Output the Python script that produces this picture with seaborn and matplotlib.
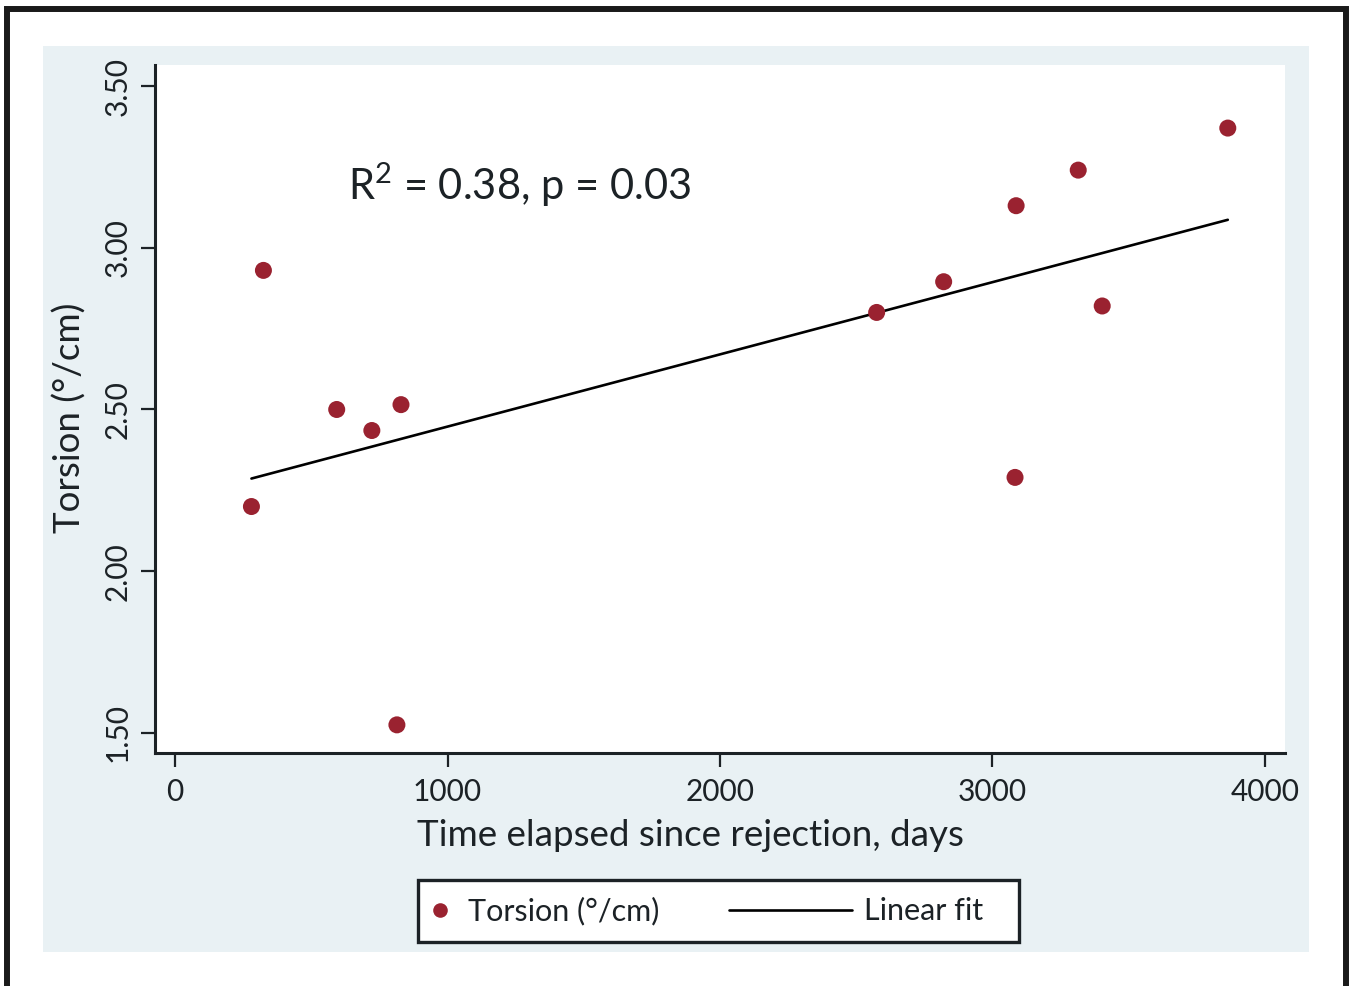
import matplotlib
matplotlib.use("Agg")
import matplotlib.pyplot as plt
import seaborn as sns
import pandas as pd
from matplotlib.patches import Rectangle
from matplotlib.lines import Line2D
from matplotlib.legend_handler import HandlerBase

days = [280, 324, 593, 722, 829, 814, 2575, 2821, 3087, 3083, 3315, 3403, 3864]
torsion = [2.20, 2.93, 2.50, 2.435, 2.515, 1.525, 2.80, 2.895, 3.13, 2.29, 3.24, 2.82, 3.37]
x_ticks = [0, 1000, 2000, 3000, 4000]
y_ticks = [1.50, 2.00, 2.50, 3.00, 3.50]
annot = "R$^{2}$ = 0.38, p = 0.03"
legend_labels = ["Torsion (°/cm)", "Linear fit"]

df = pd.DataFrame({"days": days, "torsion": torsion})

sns.set_theme(style="white")
FONT = "Lato"
plt.rcParams["font.family"] = [FONT, "DejaVu Sans"]
plt.rcParams["mathtext.fontset"] = "custom"
plt.rcParams["mathtext.rm"] = FONT
plt.rcParams["mathtext.it"] = FONT
plt.rcParams["mathtext.default"] = "regular"

W, H = 1353, 986
fig = plt.figure(figsize=(W / 100, H / 100), dpi=100, facecolor="white")

def fx(px):
    return px / W

def fy(py):
    return 1 - py / H

dark = "#1c2226"
red = "#9a2230"

# light blue background panel
fig.patches.append(Rectangle((fx(43), fy(952)), fx(1309) - fx(43), fy(46) - fy(952),
                             transform=fig.transFigure, facecolor="#e9f1f4",
                             edgecolor="none", zorder=-5))
# outer black frame
fig.patches.append(Rectangle((fx(6.5), fy(1000)), fx(1345.5) - fx(6.5), fy(9) - fy(1000),
                             transform=fig.transFigure, facecolor="none",
                             edgecolor="#1a1a1a", linewidth=4.3, zorder=5))
# legend frame
fig.patches.append(Rectangle((fx(418), fy(942)), fx(1019) - fx(418), fy(880) - fy(942),
                             transform=fig.transFigure, facecolor="white",
                             edgecolor=dark, linewidth=2.4, zorder=-4))

ax = fig.add_axes([fx(155), fy(753), fx(1285) - fx(155), fy(65) - fy(753)])
ax.set_facecolor("white")

sns.regplot(data=df, x="days", y="torsion", ax=ax, ci=None,
            scatter_kws=dict(s=150, color=red, edgecolor="none", alpha=1, zorder=3),
            line_kws=dict(color="black", linewidth=1.9, zorder=2))

ax.set_xlim(-74, 4074)
ax.set_ylim(1.438, 3.565)
ax.set_xticks(x_ticks)
ax.set_yticks(y_ticks)
ax.set_xticklabels([str(v) for v in x_ticks])
ax.set_yticklabels([f"{v:.2f}" for v in y_ticks], rotation=90, va="center")

for s in ["top", "right"]:
    ax.spines[s].set_visible(False)
for s in ["left", "bottom"]:
    ax.spines[s].set_color(dark)
    ax.spines[s].set_linewidth(2.2)

ax.tick_params(axis="both", which="major", direction="out", color=dark,
               labelcolor=dark, labelsize=21.5, width=1.6, length=10, pad=8,
               left=True, bottom=True)
ax.tick_params(axis="y", pad=7)

ax.set_xlabel("Time elapsed since rejection, days", fontsize=26.5, color=dark)
ax.set_ylabel("Torsion (°/cm)", fontsize=26.5, color=dark)
ax.xaxis.label.set_va("center")
ax.yaxis.label.set_va("center")
ax.xaxis.set_label_coords((690 - 155) / 1130, (753 - 835) / 688)
ax.yaxis.set_label_coords((70 - 155) / 1130, (753 - 418) / 688)

ax.text(0.171, 0.825, annot, transform=ax.transAxes, fontsize=30, color=dark,
        ha="left", va="center")


class HandlerLeftLine(HandlerBase):
    """Line that ends at the right of the handle box and extends leftwards."""

    def __init__(self, ext):
        super().__init__()
        self.ext = ext

    def create_artists(self, legend, orig_handle, xdescent, ydescent,
                       width, height, fontsize, trans):
        y = height / 2 - ydescent
        x1 = width - xdescent
        x0 = x1 - self.ext * fontsize
        ln = Line2D([x0, x1], [y, y], color=orig_handle.get_color(),
                    linewidth=orig_handle.get_linewidth())
        ln.set_transform(trans)
        return [ln]


h_pts = Line2D([], [], marker="o", linestyle="none", markersize=10.5,
               markerfacecolor=red, markeredgecolor="none")
h_line = Line2D([], [], color="black", linewidth=1.9)
leg = fig.legend([h_pts, h_line], legend_labels, ncol=2,
                 loc="center left", bbox_to_anchor=(fx(425), fy(911)),
                 frameon=False, fontsize=22,
                 handlelength=1.0, columnspacing=5.3, handletextpad=0.4,
                 borderpad=0, borderaxespad=0, labelcolor=dark,
                 numpoints=1, handler_map={h_line: HandlerLeftLine(4.0)})

fig.savefig("out.png", dpi=100, facecolor="white")
